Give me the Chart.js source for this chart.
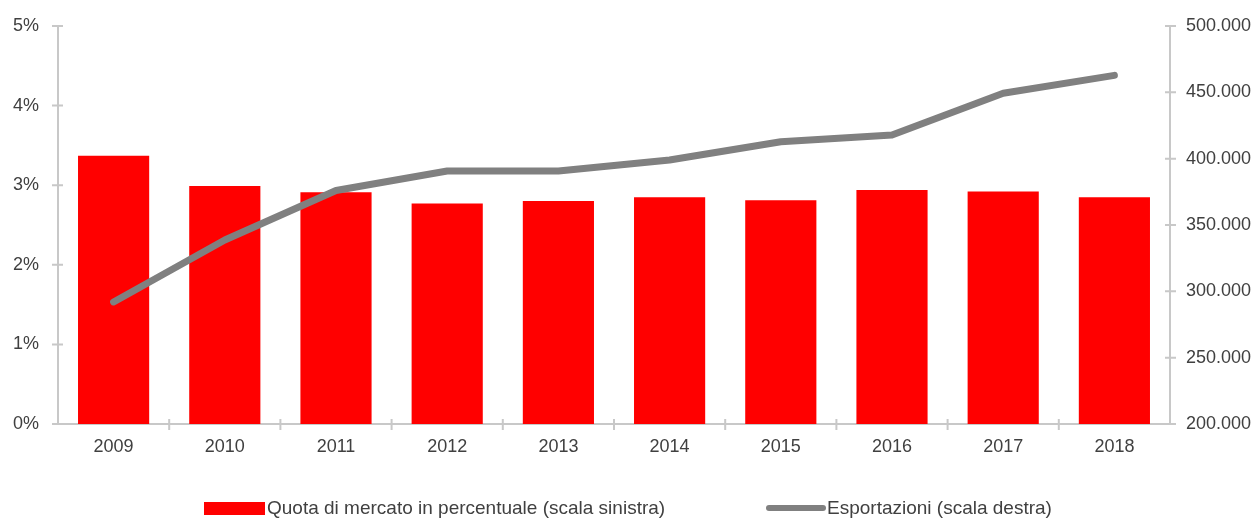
<!DOCTYPE html>
<html>
<head>
<meta charset="utf-8">
<script src="https://cdn.jsdelivr.net/npm/chart.js@4/dist/chart.umd.min.js"></script>
<style>
    html, body { margin: 0; padding: 0; background: #fff; }
    #wrap { position: relative; width: 1254px; height: 520px; }
    #legenda {
        position: absolute; left: 0; top: 497px; width: 1254px;
        font-family: "Liberation Sans", Arial, sans-serif; font-size: 19px; color: #404040;
    }
    .voce { position: absolute; top: 0; display: flex; align-items: center; white-space: nowrap; }
    .box { width: 61px; height: 13px; background: #ff0000; margin-right: 2px; }
    .linea { width: 60px; height: 6px; border-radius: 3px; background: #808080; margin-right: 1px; }
</style>
</head>
<body>
<div id="wrap">
    <canvas id="grafico" width="1254" height="520"></canvas>
    <div id="legenda">
        <div class="voce" style="left:204px"><span class="box"></span>Quota di mercato in percentuale (scala sinistra)</div>
        <div class="voce" style="left:766px"><span class="linea"></span>Esportazioni (scala destra)</div>
    </div>
</div>
<script>
// ── Dati ───────────────────────────────────
const anni = ['2009', '2010', '2011', '2012', '2013', '2014', '2015', '2016', '2017', '2018'];
const quotaMercato = [3.37, 2.99, 2.91, 2.77, 2.80, 2.85, 2.81, 2.94, 2.92, 2.85];
const esportazioni = [292000, 338700, 376000, 390700, 390700, 399000, 412800, 417800, 449300, 462800];

const GRIGIO_ASSE = '#c8c8c8';
const TESTO = '#404040';
const FONT = { family: '"Liberation Sans", Arial, sans-serif', size: 18 };

// separatore migliaia all'italiana
function formatMigliaia(v) {
    return String(Math.round(v)).replace(/\B(?=(\d{3})+(?!\d))/g, '.');
}

// tacche che attraversano l'asse, come nell'originale
const taccheAssi = {
    id: 'taccheAssi',
    afterDraw(chart) {
        const { ctx, chartArea, scales } = chart;
        ctx.save();
        ctx.strokeStyle = GRIGIO_ASSE;
        ctx.lineWidth = 2;
        ctx.beginPath();
        scales.y.ticks.forEach((t, i) => {
            const yy = scales.y.getPixelForTick(i);
            ctx.moveTo(chartArea.left - 6, yy);
            ctx.lineTo(chartArea.left + 5, yy);
        });
        scales.y2.ticks.forEach((t, i) => {
            const yy = scales.y2.getPixelForTick(i);
            ctx.moveTo(chartArea.right - 5, yy);
            ctx.lineTo(chartArea.right + 6, yy);
        });
        const passo = (chartArea.right - chartArea.left) / anni.length;
        for (let i = 1; i < anni.length; i++) {
            const xx = chartArea.left + passo * i;
            ctx.moveTo(xx, chartArea.bottom - 5);
            ctx.lineTo(xx, chartArea.bottom + 6);
        }
        ctx.stroke();
        ctx.restore();
    }
};

const ctx = document.getElementById('grafico').getContext('2d');

new Chart(ctx, {
    data: {
        labels: anni,
        datasets: [
            {
                type: 'line',
                label: 'Esportazioni (scala destra)',
                data: esportazioni,
                yAxisID: 'y2',
                borderColor: '#808080',
                borderWidth: 7,
                borderCapStyle: 'round',
                borderJoinStyle: 'round',
                pointRadius: 0,
                tension: 0,
                order: 0
            },
            {
                type: 'bar',
                label: 'Quota di mercato in percentuale (scala sinistra)',
                data: quotaMercato,
                yAxisID: 'y',
                backgroundColor: '#ff0000',
                barPercentage: 0.64,
                categoryPercentage: 1.0,
                order: 1
            }
        ]
    },
    options: {
        responsive: false,
        animation: false,
        layout: { padding: { top: 26, left: 13, right: 3, bottom: 0 } },
        plugins: {
            legend: { display: false },
            tooltip: { enabled: false }
        },
        scales: {
            x: {
                offset: true,
                grid: { display: false, drawTicks: false },
                border: { color: GRIGIO_ASSE, width: 2 },
                ticks: { color: TESTO, font: FONT, padding: 12, maxRotation: 0 },
                afterFit: (s) => { s.height = 96; }
            },
            y: {
                position: 'left',
                min: 0,
                max: 5,
                grid: { display: false, drawTicks: false },
                border: { color: GRIGIO_ASSE, width: 2 },
                ticks: {
                    stepSize: 1,
                    color: TESTO,
                    font: FONT,
                    padding: 0,
                    crossAlign: 'far',
                    callback: (v) => v + '%'
                },
                afterFit: (s) => { s.width = 45; }
            },
            y2: {
                position: 'right',
                min: 200000,
                max: 500000,
                grid: { display: false, drawTicks: false },
                border: { color: GRIGIO_ASSE, width: 2 },
                ticks: {
                    stepSize: 50000,
                    color: TESTO,
                    font: FONT,
                    padding: 0,
                    crossAlign: 'far',
                    callback: (v) => formatMigliaia(v)
                },
                afterFit: (s) => { s.width = 81; }
            }
        }
    },
    plugins: [taccheAssi]
});
</script>
</body>
</html>
